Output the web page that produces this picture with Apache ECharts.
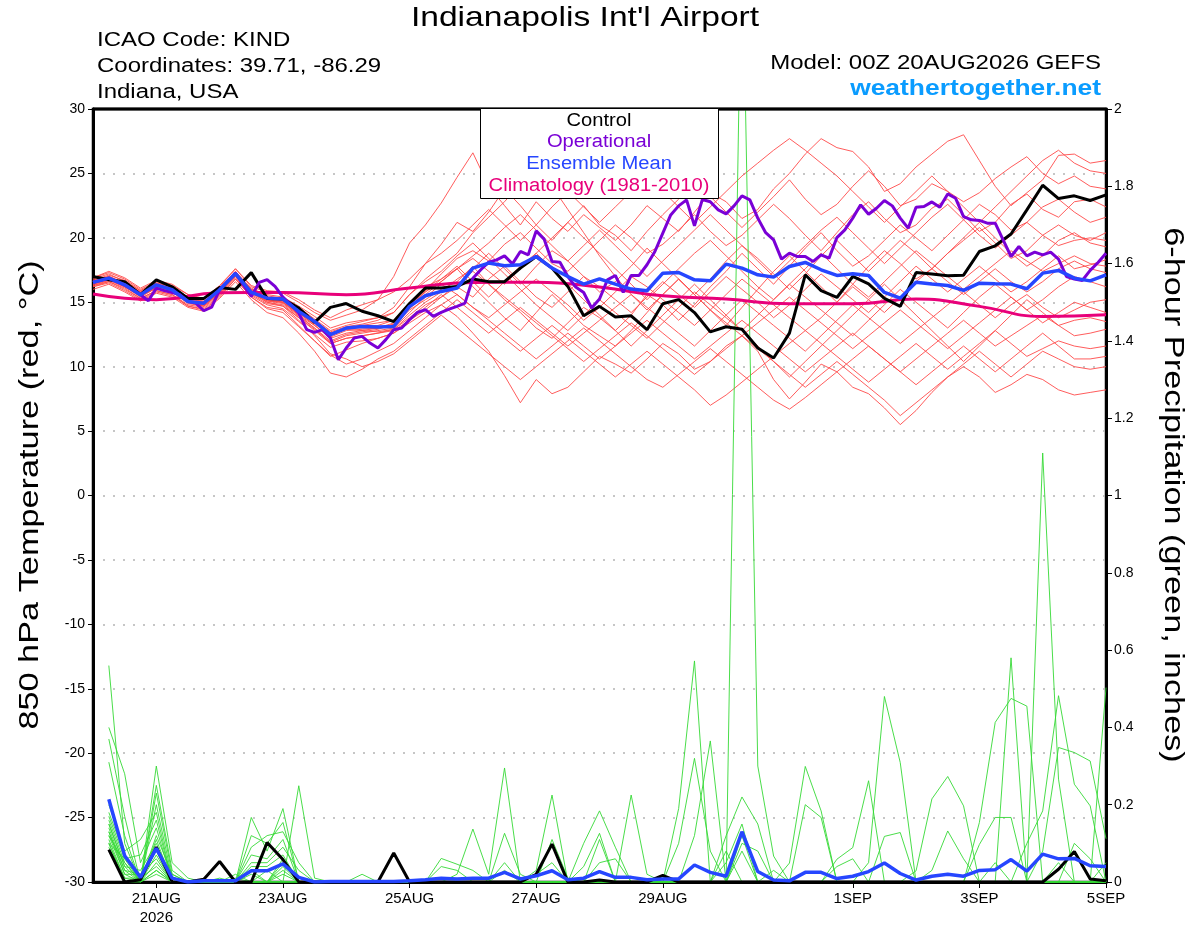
<!DOCTYPE html>
<html><head><meta charset="utf-8">
<script src="https://cdn.jsdelivr.net/npm/echarts@6.0.0/dist/echarts.min.js"></script>
<style>html,body{margin:0;padding:0;background:#fff}#c{width:1200px;height:927px}</style>
</head><body><div id="c"></div>
<script>
// x ticks (forecast hour from 00Z 20AUG2026) and labels
const tickHours = [24,72,120,168,216,288,336,384];
const tickLabels = ['21AUG\n2026','23AUG','25AUG','27AUG','29AUG','1SEP','3SEP','5SEP'];

// ---- 850 hPa temperature, 6-hourly (hour 0..384) ----
const controlTemp = [17.0,16.74,16.6,15.58,16.74,16.2,15.3,15.3,16.15,16.0,17.3,
 15.3,15.25,14.55,13.44,14.6,14.9,14.3,13.95,13.5,14.9,
 16.1,16.1,16.23,16.8,16.6,16.6,17.65,18.55,17.65,16.23,
 13.95,14.68,13.85,13.95,12.87,14.88,15.2,14.2,12.7,13.1,
 12.9,11.45,10.67,12.6,17.13,15.9,15.37,17.0,16.43,15.3,
 14.68,17.3,17.2,17.05,17.1,18.94,19.38,20.3,22.17,24.08,
 23.05,23.26,22.9,23.33];
const meanTemp = [16.54,16.87,16.35,15.58,16.35,15.97,15.06,14.93,15.97,17.23,15.76,
 15.32,15.25,14.29,13.51,12.48,13.0,13.12,13.07,13.12,14.68,
 15.5,15.84,16.1,17.65,18.04,17.83,17.91,18.55,17.65,17.0,
 16.41,16.82,16.41,16.02,15.89,17.26,17.31,16.74,16.66,17.96,
 17.65,17.13,16.95,17.78,18.09,17.52,17.08,17.21,17.08,15.76,
 15.32,16.56,16.41,16.3,15.92,16.48,16.43,16.41,16.05,17.26,
 17.47,16.87,16.66,17.13];
// operational run, 3-hourly
const operTemp = [16.54,16.7,16.87,16.6,16.35,15.97,15.58,15.12,16.1,15.9,
 15.76,15.58,15.06,14.93,14.34,14.62,15.97,16.6,17.26,16.35,
 15.45,16.54,16.75,16.23,15.4,14.8,14.16,12.87,12.66,12.87,
 12.22,10.54,11.45,12.22,12.35,11.83,11.45,12.1,12.87,13.0,
 13.64,14.21,14.42,13.9,14.21,14.47,14.68,14.93,16.87,17.52,
 18.11,18.29,18.6,17.98,18.94,18.68,20.54,19.9,18.17,18.11,
 17.0,16.18,15.76,14.55,15.25,16.74,17.08,15.76,17.08,17.08,
 17.91,18.94,20.36,21.78,22.48,22.95,20.93,22.98,22.8,22.17,
 21.86,22.48,23.26,22.95,21.53,20.4,19.84,18.35,18.81,18.55,
 18.55,18.17,18.68,18.42,20.02,20.62,21.53,22.56,21.83,22.3,
 22.9,22.48,21.53,20.75,22.38,22.43,22.79,22.38,23.41,23.07,
 21.65,21.4,21.35,21.14,21.14,19.84,18.55,19.33,18.6,18.89,
 18.68,18.89,18.35,17.0,16.8,16.69,17.47,18.09,18.81];
// climatology, daily
const climTemp = [15.64,15.2,15.73,15.76,15.58,16.1,16.54,16.56,16.18,15.5,15.25,14.88,14.88,15.25,14.68,13.9,14.03];

// ensemble members (6-hourly)
const tM01 = [16.9,17.3,16.8,16.0,16.6,16.3,15.6,15.2,16.2,17.6,16.2, 15.8,15.7,15.0,14.2,13.6,14.0,14.4,15.2,17.0,19.6,21.0, 22.7,24.7,26.6,24.0,22.5,21.0,22.8,21.5,20.5,21.8,20.8, 19.8,21.0,22.5,21.5,20.5,22.0,23.5,22.8,21.5,22.2,23.8, 25.0,26.5,27.7,27.0,26.7,25.5,23.6,24.2,25.5,26.5,27.5, 28.0,26.0,24.0,22.5,23.5,24.5,26.4,26.5,25.8,26.0];
const tM02 = [16.2,16.6,16.1,15.3,15.9,15.6,14.7,14.5,15.5,16.8,15.4, 14.6,14.4,13.2,12.0,10.8,11.3,11.8,12.2,12.6,13.4,14.2, 14.8,13.9,12.6,11.2,9.3,7.2,9.0,7.9,8.4,9.6,10.8, 10.2,9.5,10.6,11.8,11.0,9.8,10.4,11.6,12.4,11.2,9.0, 7.5,8.8,10.2,9.6,8.4,7.9,6.8,5.5,6.6,8.0,9.2, 10.0,9.2,8.0,8.6,9.4,9.0,8.2,7.8,8.0,8.2];
const tM03 = [16.6,17.0,16.5,15.8,16.4,16.1,15.3,15.1,16.0,17.3,16.1, 15.5,15.3,14.6,13.7,12.8,13.2,13.5,13.8,14.6,16.2,18.0, 19.5,21.2,20.5,22.0,23.8,22.5,21.0,19.8,21.2,22.5,21.0, 20.2,19.0,20.5,21.8,23.0,24.5,23.2,22.0,20.8,22.0,23.2, 24.5,23.0,21.8,22.6,24.0,25.2,24.0,22.5,23.0,24.2,23.6, 22.8,23.5,24.6,25.5,26.3,25.0,24.2,24.8,24.0,23.8];
const tM04 = [16.4,16.8,16.3,15.5,16.2,15.9,15.0,14.8,15.8,17.1,15.7, 15.1,15.0,14.0,13.2,12.3,12.8,12.9,13.0,13.3,14.8,15.9, 17.2,18.4,19.0,18.2,19.5,20.4,19.2,18.0,17.4,18.6,19.8, 21.0,20.0,18.8,19.5,20.6,21.8,20.5,19.4,20.2,21.4,22.6, 21.5,20.2,19.0,20.4,21.8,22.8,21.5,20.4,21.0,22.3,23.0, 21.8,20.5,21.2,22.6,23.4,22.2,21.6,22.8,23.0,22.4];
const tM05 = [16.7,17.1,16.7,15.9,16.5,16.2,15.4,15.0,16.0,17.4,16.0, 15.4,15.2,14.4,13.6,12.6,13.0,13.0,13.0,13.2,14.4,15.2, 16.0,16.6,17.8,16.4,15.2,14.2,13.0,12.2,13.4,14.6,13.8, 12.8,14.0,15.6,14.8,13.6,14.8,16.2,17.4,18.8,17.6,16.4, 17.8,19.2,20.4,19.0,17.8,18.6,19.8,21.0,20.0,19.0,20.2, 21.4,22.6,21.8,20.6,21.2,22.4,23.0,22.0,21.2,21.6];
const tM06 = [16.3,16.7,16.2,15.4,16.1,15.8,14.9,14.7,15.7,17.0,15.6, 14.9,14.7,13.8,12.8,11.8,12.2,12.4,12.6,12.9,14.0,15.0, 15.8,16.8,17.6,18.8,17.6,16.4,17.8,19.0,18.2,17.0,15.8, 16.6,17.8,19.2,18.0,16.8,15.6,16.8,18.2,19.4,18.4,17.2, 16.0,17.2,18.6,19.8,18.6,17.4,18.6,19.8,18.8,17.6,18.8, 19.8,20.8,19.6,18.4,19.0,20.2,21.0,20.2,19.8,20.4];
const tM07 = [16.6,16.9,16.5,15.7,16.3,16.1,15.2,14.9,16.0,17.3,15.9, 15.3,15.1,14.3,13.4,12.4,12.9,13.1,13.2,13.6,15.0,16.2, 16.8,17.6,16.2,15.0,13.8,12.8,14.2,15.6,14.4,13.2,12.4, 11.6,12.8,14.2,15.6,16.8,15.6,14.4,13.2,14.6,16.0,17.4, 18.6,17.4,16.2,15.0,16.4,17.8,19.0,18.0,16.8,17.6,18.8, 20.0,21.2,20.0,18.8,17.8,18.6,19.8,20.4,19.6,19.3];
const tM08 = [16.5,16.9,16.3,15.6,16.2,16.0,15.1,14.8,15.9,17.1,15.8, 15.2,15.0,14.1,13.3,12.5,12.9,12.8,12.7,12.9,13.8,14.8, 15.4,16.2,15.4,16.8,17.8,16.6,15.4,14.6,15.8,17.0,16.2, 15.2,14.2,15.4,16.6,15.6,14.6,15.8,17.0,16.0,15.0,13.8, 14.8,16.0,17.2,16.2,15.2,14.2,15.4,16.6,17.8,16.8,15.8, 16.8,17.8,16.8,15.8,16.6,17.6,18.6,17.6,17.9,18.3];
const tM09 = [16.4,16.7,16.2,15.5,16.1,15.8,15.0,14.7,15.7,17.0,15.7, 15.0,14.8,13.8,12.9,11.9,12.4,12.6,12.8,13.0,14.2,15.4, 16.4,15.6,14.6,13.8,14.8,15.8,16.8,15.8,14.8,13.6,14.6, 15.8,17.0,16.2,15.2,14.2,13.2,14.4,15.6,16.8,15.8,14.8, 13.8,12.8,13.8,15.0,16.2,15.2,14.2,15.4,16.6,17.6,16.6, 15.6,16.6,17.6,16.6,15.8,16.6,17.6,18.2,17.6,17.3];
const tM10 = [16.8,17.2,16.6,15.9,16.5,16.2,15.3,15.0,16.1,17.4,16.0, 15.6,15.4,14.7,13.9,13.0,13.4,13.6,13.8,14.2,15.6,16.6, 17.4,18.6,19.6,18.4,17.2,16.0,14.8,13.8,12.8,14.0,15.2, 14.2,13.2,12.2,13.4,14.6,15.8,14.8,13.8,12.8,14.0,15.2, 16.4,15.4,14.4,13.4,12.4,13.6,14.8,16.0,15.0,14.0,13.0, 14.2,15.4,16.4,15.4,14.4,15.2,16.2,17.0,16.6,16.2];
const tM11 = [16.3,16.6,16.0,15.3,15.9,15.6,14.8,14.6,15.6,16.9,15.5, 14.8,14.5,13.5,12.5,11.5,11.9,12.0,12.2,12.6,13.6,14.6, 15.6,14.6,13.6,12.6,13.6,14.6,13.6,12.6,11.6,12.6,13.6, 14.6,15.6,14.6,13.6,12.6,11.6,12.8,14.0,15.2,14.2,13.2, 12.2,11.2,12.4,13.6,14.8,13.8,12.8,11.8,12.8,13.8,14.8, 15.8,14.8,13.8,14.8,15.6,14.6,13.8,14.4,15.0,15.2];
const tM12 = [16.6,17.0,16.4,15.7,16.4,16.1,15.3,15.0,16.0,17.3,16.0, 15.4,15.2,14.5,13.6,12.7,13.1,13.3,13.6,14.2,15.6,16.8, 17.8,18.8,20.4,21.6,22.8,24.2,26.8,24.0,22.2,20.4,18.6, 17.0,15.6,14.4,15.6,16.8,15.6,14.4,13.4,12.4,13.4,14.4, 15.4,14.4,13.4,12.4,11.4,12.4,13.4,14.4,13.4,12.4,11.4, 12.4,13.4,14.4,15.4,14.4,13.4,14.2,15.0,14.6,14.2];
const tM13 = [16.2,16.5,15.9,15.2,15.8,15.5,14.7,14.4,15.4,16.8,15.4, 14.5,14.2,13.1,12.0,10.9,10.2,10.6,11.2,11.8,12.8,13.8, 14.8,15.6,14.6,13.6,12.6,11.6,10.6,11.6,12.6,11.6,10.6, 11.6,12.6,13.6,12.6,11.6,10.6,11.6,12.6,13.6,12.6,11.6, 10.6,9.6,10.6,11.6,12.6,11.6,10.6,9.6,10.6,11.6,12.6, 13.6,12.6,11.6,12.4,13.2,14.0,13.2,12.4,12.6,12.9];
const tM14 = [16.0,16.4,15.8,15.1,15.7,15.4,14.6,14.3,15.3,16.6,15.2, 14.2,13.8,12.6,11.2,9.5,9.2,9.8,10.6,11.2,12.2,13.2, 14.2,15.2,14.2,13.2,12.2,11.2,12.2,13.2,12.2,11.2,10.2, 9.2,10.2,11.2,10.2,9.2,8.2,7.0,7.8,8.8,9.8,10.8, 11.8,12.8,11.8,10.8,9.8,8.8,9.8,10.8,11.8,10.8,9.8, 10.8,11.8,12.8,11.8,10.8,11.4,12.0,11.6,11.4,11.6];
const tM15 = [16.5,16.8,16.3,15.6,16.2,15.9,15.1,14.8,15.8,17.1,15.8, 15.0,14.7,13.6,12.4,11.0,10.6,10.0,10.4,11.0,12.0,13.0, 14.0,13.0,12.0,11.0,10.0,9.0,10.0,11.0,12.0,13.0,12.0, 11.0,10.0,9.0,8.4,9.4,10.4,11.4,10.4,9.4,8.4,7.4, 6.7,7.6,8.6,9.6,10.6,11.6,10.6,9.6,8.6,9.6,10.6, 11.6,10.6,9.6,10.6,11.6,12.6,11.6,10.6,10.6,10.8];
const tM16 = [16.7,17.0,16.5,15.8,16.4,16.1,15.2,14.9,16.0,17.3,15.9, 15.2,15.0,14.0,13.0,11.8,12.2,12.4,12.6,12.8,13.6,14.4, 15.4,16.4,17.4,16.4,15.4,14.4,13.4,12.4,11.4,10.4,11.4, 12.4,13.4,12.4,11.4,10.4,9.4,10.4,11.4,12.4,11.4,10.4, 9.4,8.4,9.4,10.4,9.4,8.4,7.4,6.2,7.2,8.2,9.2, 10.2,11.2,10.2,9.2,10.2,11.2,10.6,10.0,9.8,10.0];
const tM17 = [16.9,17.4,16.9,16.1,16.7,16.4,15.6,15.3,16.3,17.6,16.3, 15.9,15.8,15.2,14.4,13.8,14.4,14.8,15.2,15.8,16.8,18.0, 18.8,19.8,21.0,22.2,21.0,19.8,21.0,22.4,23.6,22.4,21.2, 22.4,23.6,24.8,23.6,22.4,21.2,22.4,23.6,24.8,25.8,26.8, 27.7,26.8,25.8,24.8,23.6,22.4,21.2,22.4,23.6,24.8,23.6, 22.4,21.2,22.4,23.6,24.8,26.0,26.8,25.8,25.2,25.0];
const tM18 = [16.4,16.8,16.3,15.5,16.2,15.9,15.0,14.8,15.8,17.1,15.7, 15.2,15.0,14.2,13.4,12.6,13.0,13.2,13.4,13.6,14.8,15.8, 16.6,17.6,18.6,19.6,20.8,21.8,20.6,19.4,18.2,19.4,20.6, 19.4,18.2,17.0,18.2,19.4,20.6,21.8,20.6,19.4,18.2,17.0, 18.2,19.4,20.6,21.6,20.4,19.2,18.0,19.2,20.4,21.6,22.6, 21.4,20.2,19.2,20.2,21.2,20.2,19.4,19.8,20.0,19.8];
const tM19 = [16.6,16.9,16.4,15.7,16.3,16.0,15.2,14.9,15.9,17.2,15.9, 15.3,15.1,14.2,13.2,12.2,12.6,12.8,13.0,13.4,14.6,15.8, 16.8,17.8,16.6,15.4,16.6,17.8,18.8,17.6,16.4,15.2,14.0, 12.8,11.6,12.8,14.0,15.2,16.4,15.2,14.0,12.8,11.6,10.4, 9.2,10.4,11.6,12.8,14.0,15.2,16.4,15.2,14.0,12.8,11.6, 10.4,11.6,12.8,14.0,15.2,14.2,13.2,13.6,13.8,13.5];
const tM20 = [16.5,16.8,16.2,15.5,16.1,15.8,15.0,14.7,15.8,17.1,15.8, 15.1,14.9,13.9,13.0,12.0,12.5,12.7,12.9,13.3,14.5,15.6, 16.6,17.6,18.4,17.4,16.4,17.6,18.8,20.0,21.2,20.0,18.8, 17.6,16.4,15.2,16.4,17.6,18.8,19.8,18.6,17.4,16.2,15.2, 16.4,17.6,18.8,17.6,16.4,15.4,16.6,17.8,19.0,18.0,17.0, 16.0,17.0,18.0,19.0,18.2,17.4,18.0,18.6,18.0,17.8];

// ---- 6-hour precipitation (inches), hours 6..384 ----
const controlPrecip = [.084,0,.006,.09,0,0,.007,.053,0,0, .102,.058,0,0,0,0,0,0,.075,0,
 0,0,0,0,0,0,0,.02,.098,0, 0,.005,0,0,0,.017,0,0,0,0, 0,0,0,0,0,0,0,0,0,0,
 0,0,0,0,0,0,0,0,0,0, .033,.079,.008,.003];
const meanPrecip = [.214,.068,.012,.087,.01,0,.003,.003,.003,.029, .029,.047,.012,0,.001,.001,.001,.001,.001,.003,
 .006,.01,.008,.01,.01,.025,.008,.016,.029,.006, .01,.027,.012,.012,.006,.008,.008,.044,.025,.015,
 .13,.027,.005,.003,.025,.025,.009,.015,.027,.049, .022,.005,.015,.02,.015,.03,.032,.058,.028,.072,
 .06,.061,.042,.04];
const pM01 = [.56,.10,0,.20,.01,0,0,0, 0,0,0,0,0,0,0,0, 0,0,0,0,0,0,0,0, 0,0,0,0,0,0,0,0, 0,0,0,0,0,0,0,0, .12,0,.03,0,0,0,0,0, 0,0,0,0,0,0,0,0, .05,0,0,0,0,0,0,0];
const pM02 = [.40,.28,.05,.14,0,0,0,0, 0,.04,.04,.07,0,0,0,0, 0,0,0,0,0,0,0,0, 0,0,0,0,0,0,0,0, 0,0,0,.01,0,0,0,0, 0,0,0,0,0,0,0,0, 0,.118,.128,0,0,0,0,0, 0,0,0,0,0,0,0,0];
const pM03 = [.37,.17,0,.25,.03,0,0,0, 0,.02,0,.05,0,0,0,0, 0,0,0,0,0,0,0,0, 0,0,0,.03,.225,0,0,0, 0,0,0,0,0,0,0,0, 0,0,0,.049,.299,.184,0,0, 0,0,0,0,0,0,0,0, 0,0,0,0,0,0,0,0];
const pM04 = [.31,.12,0,.23,.02,0,0,0, 0,0,0,0,0,0,0,0, 0,0,0,0,0,0,.02,.137, .02,.295,0,0,0,0,0,0, 0,0,0,0,0,0,0,0, 0,0,0,0,0,0,0,0, 0,0,0,0,0,0,0,.154, .413,.475,.455,0,0,0,0,0];
const pM05 = [.20,.08,.11,.18,0,0,0,0, 0,.167,.08,.19,0,0,0,0, 0,0,0,0,0,0,0,0, 0,0,0,0,0,0,0,0, 0,0,0,0,.10,.32,.08,0, 0,0,0,0,0,0,0,0, 0,0,0,0,0,0,0,0, 0,0,0,0,0,0,0,0];
const pM06 = [.18,.07,0,.30,.05,.01,0,0, 0,0,0,0,0,0,0,0, 0,0,0,0,0,0,0,0, 0,0,0,0,.11,.01,0,.11, 0,0,0,0,0,0,0,0, .08,0,0,0,0,0,0,0, 0,0,0,0,0,0,0,0, 0,0,0,.08,.348,.335,.313,.112];
const pM07 = [.17,.06,.07,.16,0,0,0,0, 0,0,0,0,.249,.01,0,0, 0,0,0,0,0,0,0,0, 0,0,0,0,0,0,0,0, 0,0,0,0,0,.12,.365,0, 0,0,0,0,0,0,0,0, 0,0,0,0,0,0,0,0, 0,0,0,0,0,0,0,.503];
const pM08 = [.16,.05,0,.12,.02,0,0,0, 0,.12,.10,.154,0,0,0,0, 0,0,0,0,0,0,0,0, 0,0,0,0,0,0,.04,.126, 0,0,0,0,0,0,0,0, 0,0,0,0,0,0,0,0, 0,0,0,0,0,0,0,.097, .167,.167,0,0,0,0,0,0];
const pM09 = [.15,.04,.03,.10,0,0,0,.01, 0,0,0,0,0,0,0,0, 0,0,0,0,0,.061,.046,.03, 0,.05,0,0,0,0,0,0, 0,0,0,0,0,0,0,0, 0,0,0,0,0,0,.059,.089, .262,0,0,0,0,0,0,0, 0,0,0,0,0,0,0,0];
const pM10 = [.15,.04,0,.09,0,0,0,0, 0,.09,.12,.13,.05,0,0,0, 0,0,0,0,0,0,0,0, 0,0,0,0,0,0,0,0, 0,0,0,0,0,0,0,.12, .22,.15,0,0,0,0,0,0, 0,0,0,0,0,0,0,0, 0,0,0,0,0,0,0,0];
const pM11 = [.14,.03,.02,.08,0,0,0,0, 0,0,0,.04,0,0,0,0, 0,0,0,0,0,0,0,0, 0,.126,.02,0,0,0,0,0, 0,0,0,0,0,0,0,0, 0,0,0,0,.20,.167,0,0, 0,0,0,0,0,0,0,0, 0,0,0,0,0,.10,.06,0];
const pM12 = [.13,.03,0,.07,0,0,0,0, .01,0,0,0,0,0,0,0, 0,0,0,0,0,.04,.03,0, 0,0,0,0,0,0,0,0, 0,0,0,0,0,0,0,.05, .15,0,0,0,0,0,0,0, 0,0,0,0,0,0,0,0, 0,0,.10,.184,.482,.253,.197,0];
const pM13 = [.13,.02,.02,.06,0,0,0,0, 0,.07,.06,.11,0,0,0,0, 0,0,0,0,0,0,0,0, 0,0,0,0,0,0,0,.05, .06,0,0,0,0,0,0,0, 0,0,0,0,0,0,.04,.06, 0,0,0,0,0,0,0,0, 0,0,0,0,0,0,0,.05];
const pM14 = [.12,.02,0,.05,0,0,0,0, .02,0,0,0,0,0,0,0, 0,0,0,0,0,0,0,0, 0,.03,0,.02,.05,0,0,0, 0,0,0,0,0,0,0,0, 0,0,0,0,0,0,0,0, 0,0,0,.029,.215,.273,.197,0, 0,0,0,0,0,0,0,0];
const pM15 = [.11,.01,.01,.04,0,0,0,0, 0,.05,.05,.09,.03,0,0,0, 0,0,0,0,0,0,0,0, 0,0,0,0,0,0,0,0, 0,0,0,0,0,0,0,0, 0,0,0,0,0,0,0,0, 0,0,0,0,.03,.132,.06,0, 0,0,0,0,0,0,0,0];
const pM16 = [.10,.01,0,.03,0,0,0,0, 0,0,0,0,0,0,0,0, .02,0,0,0,0,0,0,0, 0,0,0,0,0,0,0,0, 0,0,0,0,0,0,0,0, 2.5,.30,.067,0,0,0,0,0, 0,0,0,0,0,0,0,0, 0,0,0,0,0,0,0,0];
const pM17 = [.10,0,0,.03,0,0,0,0, 0,.03,0,.06,0,0,0,0, 0,0,0,0,0,0,0,0, 0,0,0,0,0,0,.10,.184, .09,0,0,0,0,0,0,0, 0,0,0,0,0,0,0,0, 0,0,0,0,0,0,0,0, 0,0,0,1.11,.266,0,0,0];
const pM18 = [.09,0,0,.02,0,0,0,0, 0,0,.03,0,0,0,0,0, 0,0,0,0,0,0,0,0, 0,0,0,0,0,0,0,0, 0,0,0,0,0,0,0,0, .10,.08,0,0,0,0,0,0, 0,0,0,0,0,0,0,0, 0,.58,0,0,0,0,0,0];
const pM19 = [.12,.05,0,.11,0,0,0,0, 0,0,0,.03,0,0,0,0, 0,0,0,0,0,0,0,0, 0,0,0,0,0,0,0,0, 0,0,0,0,.19,.572,0,.08, 0,0,0,0,0,0,0,0, 0,0,0,0,0,0,0,0, 0,0,0,0,.05,0,0,0];
const pM20 = [.10,.06,0,.09,0,0,0,0, 0,0,0,.02,0,0,0,0, 0,0,0,0,0,0,0,0, 0,0,0,0,0,0,0,0, 0,.225,.02,0,0,0,0,0, 0,0,0,0,0,0,0,0, .05,.48,.309,0,0,0,0,0, 0,0,0,0,0,0,0,0];

const tempMembers = [tM01,tM02,tM03,tM04,tM05,tM06,tM07,tM08,tM09,tM10,tM11,tM12,tM13,tM14,tM15,tM16,tM17,tM18,tM19,tM20];
const precipMembers = [pM01,pM02,pM03,pM04,pM05,pM06,pM07,pM08,pM09,pM10,pM11,pM12,pM13,pM14,pM15,pM16,pM17,pM18,pM19,pM20];

const FONT = "'Liberation Sans', Arial, sans-serif";
const at6 = arr => arr.map((v,i)=>[i*6, v]);
const at6p = arr => arr.map((v,i)=>[(i+1)*6, v]);
const at3 = arr => arr.map((v,i)=>[i*3, v]);
const at24 = arr => arr.map((v,i)=>[i*24, v]);

function line(data, yIdx, color, width, extra) {
  return Object.assign({
    type:'line', data, yAxisIndex:yIdx, symbol:'none', showSymbol:false,
    lineStyle:{color, width}, itemStyle:{color}, silent:true, animation:false,
    emphasis:{disabled:true}, clip:true
  }, extra||{});
}

const series = [];
tempMembers.forEach(m => series.push(line(at6(m), 0, '#ff4a4a', 0.9)));
precipMembers.forEach(m => series.push(line(at6p(m), 1, '#36d936', 0.9)));
series.push(line(at24(climTemp), 0, '#e8007a', 3, {smooth:true}));
series.push(line(at6(controlTemp), 0, '#000000', 3));
series.push(line(at3(operTemp), 0, '#7a00d6', 3));
series.push(line(at6(meanTemp), 0, '#2646ff', 3.5));
series.push(line(at6p(controlPrecip), 1, '#000000', 3));
series.push(line(at6p(meanPrecip), 1, '#2646ff', 3.5));

function txt(text, x, y, size, opts) {
  opts = opts || {};
  return {
    type:'text', x, y, z:100, zlevel:0,
    rotation: opts.rotation || 0, scaleX: opts.scaleX || 1,
    style:{text, fill: opts.color || '#000', font: (opts.weight||'normal') + ' ' + size + 'px ' + FONT,
      align: opts.align || 'left', verticalAlign:'middle'}
  };
}

const graphics = [
  txt("Indianapolis Int'l Airport", 585, 18, 28, {align:'center', scaleX:1.2}),
  txt('ICAO Code: KIND', 97, 40, 20, {scaleX:1.2}),
  txt('Coordinates: 39.71, -86.29', 97, 66, 20, {scaleX:1.2}),
  txt('Indiana, USA', 97, 92, 20, {scaleX:1.2}),
  txt('Model: 00Z 20AUG2026 GEFS', 1101, 63, 20, {align:'right', scaleX:1.2}),
  txt('weathertogether.net', 1101, 89, 22, {align:'right', scaleX:1.2, weight:'bold', color:'#0a9cff'}),
  txt('850 hPa Temperature (red, \u00B0C)', 31, 495, 27, {align:'center', rotation:Math.PI/2, scaleX:1.27}),
  txt('6-hour Precipitation (green, inches)', 1172, 495, 27, {align:'center', rotation:-Math.PI/2, scaleX:1.27}),
  {type:'line', z:98, shape:{x1:93, y1:109, x2:1106, y2:109}, style:{stroke:'#000', lineWidth:3}},
  {type:'rect', z:99, shape:{x:480.5, y:108.5, width:238, height:90}, style:{fill:'#fff', stroke:'#000', lineWidth:1}},
  txt('Control', 599, 121, 18, {align:'center', scaleX:1.12}),
  txt('Operational', 599, 142, 18, {align:'center', scaleX:1.12, color:'#7a00d6'}),
  txt('Ensemble Mean', 599, 164, 18, {align:'center', scaleX:1.12, color:'#2646ff'}),
  txt('Climatology (1981-2010)', 599, 186, 18, {align:'center', scaleX:1.12, color:'#e8007a'})
];

const chart = echarts.init(document.getElementById('c'), null, {renderer:'canvas'});
chart.setOption({
  animation:false,
  backgroundColor:'#fff',
  textStyle:{fontFamily:FONT},
  grid:{left:93, right:94, top:109, bottom:44, show:true, borderColor:'#000', borderWidth:2.5, backgroundColor:'transparent'},
  xAxis:{type:'value', min:0, max:384,
    axisLine:{show:true, onZero:false, lineStyle:{color:'#000', width:3}},
    axisTick:{show:true, customValues:tickHours, length:6, lineStyle:{color:'#000', width:1}},
    axisLabel:{customValues:tickHours, color:'#000', fontSize:15, lineHeight:19, margin:7, fontFamily:FONT,
      formatter:v => tickLabels[tickHours.indexOf(v)] || ''},
    splitLine:{show:false}},
  yAxis:[
    {type:'value', min:-30, max:30, interval:5, position:'left',
     axisLine:{show:true, onZero:false, lineStyle:{color:'#000', width:3}},
     axisTick:{show:true, length:5, lineStyle:{color:'#000', width:1}},
     axisLabel:{color:'#000', fontSize:14, margin:8, fontFamily:FONT},
     splitLine:{show:true, showMinLine:false, showMaxLine:false, lineStyle:{color:'#b4b4b4', width:1.5, type:[2,8]}}},
    {type:'value', min:0, max:2, interval:0.2, position:'right',
     axisLine:{show:true, onZero:false, lineStyle:{color:'#000', width:3}},
     axisTick:{show:true, length:6, lineStyle:{color:'#000', width:1}},
     axisLabel:{color:'#000', fontSize:14, margin:8, fontFamily:FONT},
     splitLine:{show:false}}
  ],
  series,
  graphic:{elements:graphics}
});
</script></body></html>
